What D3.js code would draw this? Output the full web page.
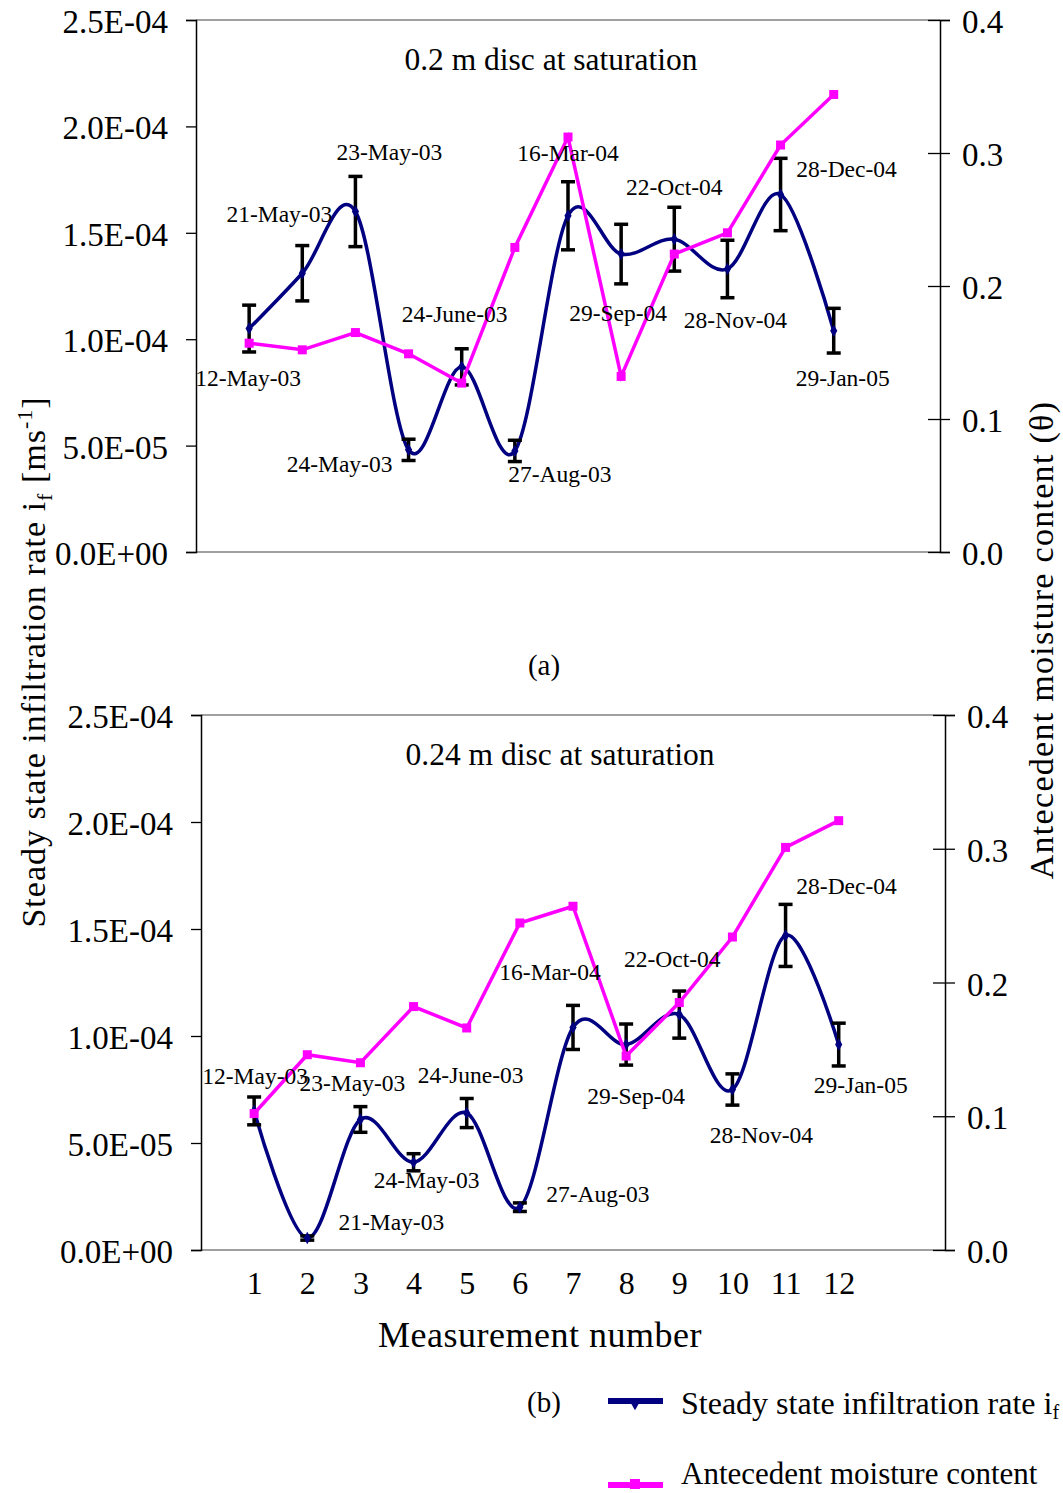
<!DOCTYPE html>
<html>
<head>
<meta charset="utf-8">
<script src="https://cdn.jsdelivr.net/npm/d3@7"></script>
<style>
  html, body { margin: 0; padding: 0; background: #fff; }
  svg { display: block; font-family: "Liberation Serif", "Times New Roman", serif; }
</style>
</head>
<body>
<svg id="chart" width="1063" height="1493"></svg>
<script>
// Measurement numbers and sampling dates
const measurement = [1, 2, 3, 4, 5, 6, 7, 8, 9, 10, 11, 12];
const dates = ["12-May-03", "21-May-03", "23-May-03", "24-May-03", "24-June-03", "27-Aug-03",
               "16-Mar-04", "29-Sep-04", "22-Oct-04", "28-Nov-04", "28-Dec-04", "29-Jan-05"];

// (a) 0.2 m disc: steady state infiltration rate [m/s], its error, antecedent moisture content
const rateA  = [1.05e-4, 1.31e-4, 1.60e-4, 4.8e-5, 8.7e-5, 4.75e-5, 1.58e-4, 1.40e-4, 1.47e-4, 1.33e-4, 1.68e-4, 1.04e-4];
const errA   = [1.1e-5, 1.3e-5, 1.65e-5, 5e-6, 8.5e-6, 5e-6, 1.6e-5, 1.4e-5, 1.5e-5, 1.35e-5, 1.7e-5, 1.05e-5];
const thetaA = [0.157, 0.152, 0.165, 0.149, 0.127, 0.229, 0.312, 0.132, 0.224, 0.240, 0.306, 0.344];

// (b) 0.24 m disc
const rateB  = [6.5e-5, 5.6e-6, 6.1e-5, 4.1e-5, 6.4e-5, 2.0e-5, 1.04e-4, 9.6e-5, 1.10e-4, 7.5e-5, 1.47e-4, 9.6e-5];
const errB   = [6.5e-6, 1e-6, 6e-6, 4e-6, 6.8e-6, 2e-6, 1.03e-5, 9.6e-6, 1.1e-5, 7.3e-6, 1.45e-5, 1.0e-5];
const thetaB = [0.102, 0.146, 0.140, 0.182, 0.166, 0.2445, 0.257, 0.145, 0.185, 0.234, 0.301, 0.321];

const leftTicks  = [0, 5e-5, 1e-4, 1.5e-4, 2e-4, 2.5e-4];
const rightTicks = [0, 0.1, 0.2, 0.3, 0.4];
const xTickLabels = ["1", "2", "3", "4", "5", "6", "7", "8", "9", "10", "11", "12"];

// Placement of the date annotations around each point (dx, dy in px from the point)
const labelOffsetsA = [[-1, 57], [-23, -51], [34, -52], [-69, 22], [-7, -45], [45, 31],
                       [0, -55], [-3, 67], [0, -44], [8, 59], [66, -17], [9, 55]];
const labelOffsetsB = [[1, -27], [84, -8], [-8, -28], [13, 26], [4, -30], [78, -5],
                       [-23, -47], [10, 59], [-7, -48], [29, 53], [61, -41], [22, 48]];

const NAVY = "#000080", MAGENTA = "#ff00ff";
const svg = d3.select("#chart");

const fmtSci = v => {
  if (v === 0) return "0.0E+00";
  const e = Math.floor(Math.log10(v));
  const m = v / Math.pow(10, e);
  const es = (e < 0 ? "-" : "+") + String(Math.abs(e)).padStart(2, "0");
  return m.toFixed(1) + "E" + es;
};

function panel(cfg) {
  const { left, right, top, bottom, rate, err, theta, offsets, title, titleX, showXAxis } = cfg;
  const x = d3.scaleLinear().domain([0, 14]).range([left, right]);
  const yL = d3.scaleLinear().domain([0, 2.5e-4]).range([bottom, top]);
  const yR = d3.scaleLinear().domain([0, 0.4]).range([bottom, top]);
  const g = svg.append("g");

  // plot frame: grey top/bottom, black value axes
  g.append("line").attr("x1", left).attr("x2", right).attr("y1", top).attr("y2", top)
    .attr("stroke", "#a0a0a0").attr("stroke-width", 2);
  g.append("line").attr("x1", left).attr("x2", right).attr("y1", bottom).attr("y2", bottom)
    .attr("stroke", "#a0a0a0").attr("stroke-width", 2);

  const axL = g.append("g").attr("transform", `translate(${left},0)`)
    .call(d3.axisLeft(yL).tickValues(leftTicks).tickFormat(fmtSci).tickSize(10).tickPadding(18));
  const axR = g.append("g").attr("transform", `translate(${right},0)`)
    .call(d3.axisRight(yR).tickValues(rightTicks).tickFormat(d3.format(".1f")).tickSize(10).tickPadding(12));
  axR.selectAll(".tick").append("line").attr("x1", -12).attr("x2", 0).attr("stroke", "#000");
  [axL, axR].forEach(a => {
    a.select(".domain").attr("stroke", "#000").attr("stroke-width", 1.5);
    a.selectAll(".tick line").attr("stroke", "#000").attr("stroke-width", 1.3);
    a.selectAll("text").attr("font-size", 33).attr("font-family", "Liberation Serif").attr("fill", "#000")
      .attr("dy", "0.38em");
  });

  if (showXAxis) {
    const axX = g.append("g").attr("transform", `translate(0,${bottom})`)
      .call(d3.axisBottom(x).tickValues(measurement).tickFormat((d, i) => xTickLabels[i]).tickSize(0).tickPadding(21));
    axX.select(".domain").remove();
    axX.selectAll("text").attr("font-size", 32).attr("font-family", "Liberation Serif").attr("fill", "#000");
  }

  // panel title
  g.append("text").attr("x", titleX).attr("y", top + 50)
    .attr("text-anchor", "middle").attr("font-size", 31.5).text(title);

  // infiltration rate: smoothed line
  const line = d3.line().x((d, i) => x(measurement[i])).y(d => yL(d)).curve(d3.curveCardinal.tension(0));
  g.append("path").datum(rate).attr("d", line).attr("fill", "none")
    .attr("stroke", NAVY).attr("stroke-width", 3.5);

  // error bars
  const eb = g.append("g").attr("stroke", "#000").attr("stroke-width", 3.5);
  rate.forEach((v, i) => {
    const cx = x(measurement[i]), y1 = yL(v + err[i]), y2 = yL(v - err[i]);
    eb.append("line").attr("x1", cx).attr("x2", cx).attr("y1", y1).attr("y2", y2);
    eb.append("line").attr("x1", cx - 7).attr("x2", cx + 7).attr("y1", y1).attr("y2", y1);
    eb.append("line").attr("x1", cx - 7).attr("x2", cx + 7).attr("y1", y2).attr("y2", y2);
  });

  // rate markers (diamonds)
  g.selectAll(".rate-pt").data(rate).join("path").attr("class", "rate-pt")
    .attr("d", d3.symbol(d3.symbolDiamond, 45))
    .attr("transform", (d, i) => `translate(${x(measurement[i])},${yL(d)})`)
    .attr("fill", NAVY);

  // antecedent moisture: straight line with squares
  const lineT = d3.line().x((d, i) => x(measurement[i])).y(d => yR(d));
  g.append("path").datum(theta).attr("d", lineT).attr("fill", "none")
    .attr("stroke", MAGENTA).attr("stroke-width", 3.5);
  g.selectAll(".theta-pt").data(theta).join("rect").attr("class", "theta-pt")
    .attr("x", (d, i) => x(measurement[i]) - 4.5).attr("y", d => yR(d) - 4.5)
    .attr("width", 9).attr("height", 9).attr("fill", MAGENTA);

  // date annotations
  g.selectAll(".date-lbl").data(dates).join("text").attr("class", "date-lbl")
    .attr("x", (d, i) => x(measurement[i]) + offsets[i][0])
    .attr("y", (d, i) => yL(rate[i]) + offsets[i][1])
    .attr("text-anchor", "middle").attr("font-size", 23.5).attr("fill", "#000")
    .text(d => d);
}

panel({ left: 196, right: 940, top: 20, bottom: 552, rate: rateA, err: errA, theta: thetaA,
        offsets: labelOffsetsA, title: "0.2 m disc at saturation", titleX: 551, showXAxis: false });
panel({ left: 201, right: 945, top: 715, bottom: 1250, rate: rateB, err: errB, theta: thetaB,
        offsets: labelOffsetsB, title: "0.24 m disc at saturation", titleX: 560, showXAxis: true });

// panel captions
svg.append("text").attr("x", 544).attr("y", 675).attr("text-anchor", "middle").attr("font-size", 29).text("(a)");
svg.append("text").attr("x", 544).attr("y", 1412).attr("text-anchor", "middle").attr("font-size", 29).text("(b)");

// x axis title
svg.append("text").attr("x", 540).attr("y", 1347).attr("text-anchor", "middle").attr("font-size", 36)
  .attr("letter-spacing", 0.5).text("Measurement number");

// left axis title
const lt = svg.append("text").attr("transform", "translate(45,662) rotate(-90)")
  .attr("text-anchor", "middle").attr("font-size", 34).attr("letter-spacing", 1);
lt.append("tspan").text("Steady state infiltration rate i");
lt.append("tspan").attr("font-size", 22).attr("dy", 7).text("f");
lt.append("tspan").attr("dy", -7).text(" [ms");
lt.append("tspan").attr("font-size", 22).attr("dy", -13).text("-1");
lt.append("tspan").attr("dy", 13).text("]");

// right axis title
svg.append("text").attr("transform", "translate(1053,640) rotate(-90)")
  .attr("text-anchor", "middle").attr("font-size", 34).attr("letter-spacing", 1.3)
  .text("Antecedent moisture content (\u03b8)");

// legend
const legend = svg.append("g");
legend.append("line").attr("x1", 608).attr("x2", 663).attr("y1", 1401).attr("y2", 1401)
  .attr("stroke", NAVY).attr("stroke-width", 6);
legend.append("path").attr("d", d3.symbol(d3.symbolDiamond, 45)).attr("transform", "translate(635,1404)").attr("fill", NAVY);
const lg1 = legend.append("text").attr("x", 681).attr("y", 1414).attr("font-size", 32);
lg1.append("tspan").text("Steady state infiltration rate i");
lg1.append("tspan").attr("font-size", 20).attr("dy", 5).text("f");

legend.append("line").attr("x1", 608).attr("x2", 663).attr("y1", 1485).attr("y2", 1485)
  .attr("stroke", MAGENTA).attr("stroke-width", 6);
legend.append("rect").attr("x", 630).attr("y", 1479).attr("width", 10).attr("height", 10).attr("fill", MAGENTA);
legend.append("text").attr("x", 681).attr("y", 1484).attr("font-size", 31).text("Antecedent moisture content");
</script>
</body>
</html>
